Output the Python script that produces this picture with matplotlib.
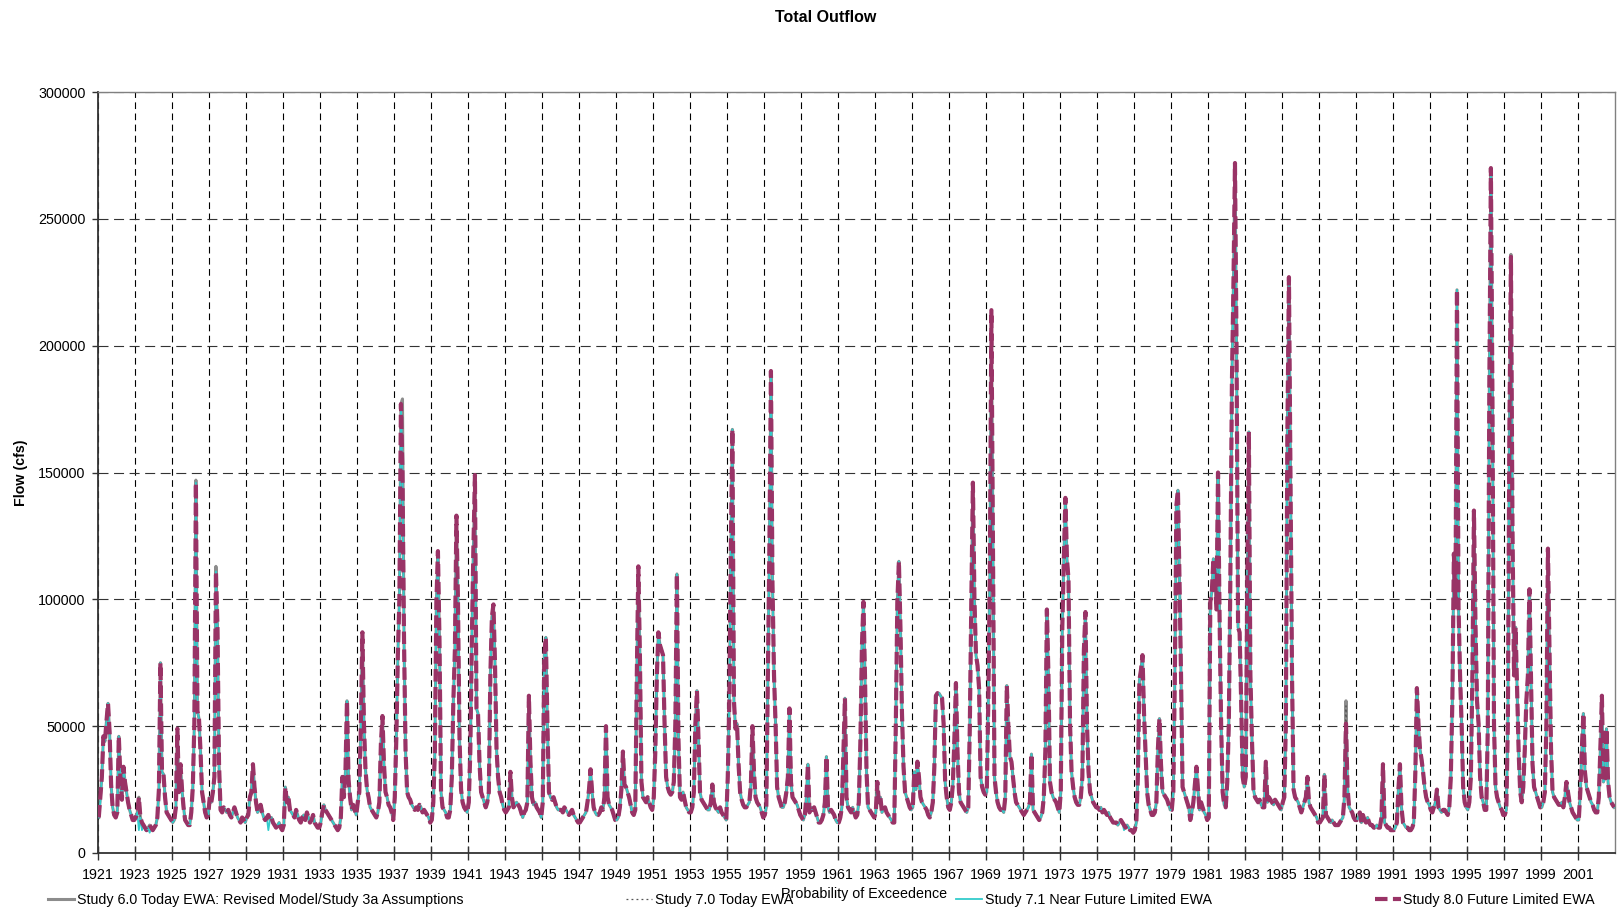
import numpy as np
import matplotlib.pyplot as plt
from matplotlib.ticker import FuncFormatter

plt.rcParams['font.family'] = ['Liberation Sans', 'DejaVu Sans']

# =============================================================================
# DATA  (monthly total outflow in 1000 cfs, one row per water year Oct..Sep,
#        first row = Oct 1921 .. Sep 1922)
# =============================================================================

study80_kcfs = [
    [14, 22, 30, 46, 44, 52, 59, 48, 27, 18, 15, 14],
    [16, 46, 30, 21, 34, 28, 24, 20, 17, 15, 13, 13],
    [14, 16, 22, 14, 12, 11, 10, 9, 10, 11, 10, 9],
    [10, 11, 14, 25, 75, 32, 31, 22, 16, 15, 14, 13],
    [12, 13, 18, 49, 24, 35, 25, 18, 13, 12, 11, 11],
    [16, 26, 51, 146, 56, 53, 40, 24, 20, 16, 14, 15],
    [22, 20, 24, 30, 111, 89, 35, 17, 16, 18, 17, 16],
    [17, 15, 14, 16, 18, 16, 14, 13, 12, 14, 13, 12],
    [14, 15, 22, 24, 35, 26, 20, 16, 17, 19, 16, 14],
    [13, 14, 15, 13, 14, 12, 11, 10, 11, 12, 10, 9],
    [11, 26, 20, 22, 17, 16, 15, 14, 17, 15, 13, 12],
    [14, 15, 13, 16, 14, 12, 13, 15, 12, 11, 10, 10],
    [12, 16, 19, 17, 16, 15, 14, 13, 12, 11, 10, 9],
    [10, 14, 30, 22, 32, 60, 29, 22, 17, 19, 17, 15],
    [20, 24, 50, 87, 51, 33, 25, 22, 18, 17, 16, 15],
    [14, 16, 20, 43, 54, 35, 24, 22, 19, 18, 16, 13],
    [22, 45, 78, 100, 177, 150, 84, 40, 24, 22, 21, 19],
    [18, 17, 18, 17, 19, 18, 16, 17, 16, 15, 14, 12],
    [13, 20, 40, 99, 119, 84, 24, 18, 17, 16, 14, 14],
    [17, 30, 60, 80, 133, 99, 45, 25, 20, 18, 17, 16],
    [20, 40, 84, 120, 149, 57, 55, 35, 24, 22, 20, 18],
    [20, 24, 70, 93, 98, 75, 41, 30, 24, 22, 19, 17],
    [16, 17, 18, 32, 22, 18, 19, 20, 19, 18, 16, 14],
    [16, 17, 20, 62, 36, 22, 19, 20, 18, 17, 16, 14],
    [20, 78, 85, 51, 24, 22, 21, 22, 20, 18, 17, 17],
    [17, 16, 18, 17, 16, 15, 16, 17, 15, 14, 13, 12],
    [12, 13, 14, 15, 16, 20, 25, 33, 24, 18, 16, 15],
    [15, 16, 18, 17, 22, 50, 22, 19, 18, 17, 15, 13],
    [13, 14, 18, 25, 40, 27, 26, 24, 22, 19, 16, 15],
    [17, 70, 113, 78, 28, 22, 21, 20, 22, 20, 18, 17],
    [22, 40, 70, 87, 82, 80, 78, 51, 30, 26, 24, 23],
    [24, 28, 51, 110, 45, 22, 21, 24, 21, 18, 17, 16],
    [16, 18, 24, 51, 64, 45, 24, 21, 20, 19, 18, 17],
    [17, 20, 27, 20, 18, 17, 16, 18, 16, 15, 14, 13],
    [30, 60, 120, 167, 60, 49, 51, 35, 24, 21, 19, 18],
    [18, 19, 20, 27, 50, 32, 22, 20, 19, 18, 16, 14],
    [15, 18, 70, 120, 190, 106, 70, 51, 26, 22, 20, 18],
    [18, 20, 24, 30, 57, 28, 22, 21, 20, 19, 17, 15],
    [14, 13, 15, 22, 35, 16, 18, 17, 18, 16, 14, 12],
    [12, 13, 15, 20, 38, 18, 16, 17, 16, 15, 13, 12],
    [12, 14, 18, 40, 61, 22, 18, 17, 16, 18, 16, 14],
    [15, 20, 43, 81, 99, 70, 32, 18, 17, 16, 15, 14],
    [16, 28, 20, 22, 16, 17, 18, 16, 15, 14, 13, 12],
    [12, 51, 99, 115, 89, 55, 34, 24, 22, 20, 18, 17],
    [18, 32, 25, 36, 30, 22, 20, 19, 18, 17, 15, 14],
    [16, 20, 34, 62, 63, 63, 62, 61, 51, 28, 22, 18],
    [17, 20, 27, 45, 67, 40, 24, 20, 19, 18, 17, 16],
    [18, 50, 100, 146, 100, 78, 74, 65, 30, 26, 24, 23],
    [24, 60, 110, 214, 120, 30, 24, 20, 18, 17, 17, 16],
    [22, 66, 50, 38, 36, 30, 24, 20, 19, 18, 17, 16],
    [15, 16, 17, 18, 20, 39, 17, 16, 15, 14, 13, 14],
    [16, 22, 40, 96, 70, 28, 24, 22, 21, 20, 18, 16],
    [24, 89, 116, 140, 116, 108, 51, 32, 26, 22, 20, 19],
    [19, 22, 30, 80, 95, 51, 32, 24, 22, 20, 19, 18],
    [18, 17, 18, 16, 17, 16, 15, 16, 14, 13, 12, 12],
    [12, 11, 12, 13, 12, 11, 10, 11, 10, 9, 9, 8],
    [9, 12, 30, 68, 72, 78, 55, 40, 24, 19, 17, 15],
    [15, 16, 20, 41, 53, 35, 24, 23, 22, 21, 19, 17],
    [17, 24, 70, 137, 143, 108, 70, 26, 24, 22, 20, 18],
    [13, 16, 20, 27, 34, 25, 17, 20, 18, 16, 15, 13],
    [14, 99, 103, 116, 108, 96, 150, 93, 51, 24, 19, 18],
    [28, 51, 108, 185, 224, 272, 200, 89, 87, 60, 30, 26],
    [30, 108, 166, 70, 45, 25, 22, 21, 20, 21, 19, 18],
    [18, 36, 20, 22, 21, 20, 19, 21, 20, 19, 18, 17],
    [20, 22, 51, 166, 227, 147, 70, 25, 22, 21, 20, 18],
    [16, 18, 20, 22, 30, 20, 18, 17, 16, 15, 14, 12],
    [12, 13, 14, 31, 15, 14, 13, 12, 13, 12, 11, 11],
    [11, 12, 13, 14, 22, 51, 26, 18, 17, 16, 14, 13],
    [13, 14, 16, 12, 15, 13, 12, 14, 12, 11, 11, 10],
    [10, 11, 10, 10, 14, 35, 12, 11, 10, 10, 9, 9],
    [9, 10, 12, 25, 35, 18, 12, 11, 10, 10, 9, 9],
    [10, 12, 32, 65, 51, 41, 37, 32, 26, 22, 20, 19],
    [17, 16, 18, 20, 25, 18, 17, 16, 17, 17, 16, 15],
    [18, 30, 60, 118, 97, 222, 97, 70, 51, 26, 20, 18],
    [17, 20, 30, 70, 135, 90, 60, 51, 30, 22, 20, 17],
    [17, 50, 185, 270, 180, 51, 26, 22, 20, 18, 17, 15],
    [15, 17, 51, 166, 235, 128, 70, 89, 64, 40, 24, 20],
    [26, 41, 60, 70, 104, 70, 35, 26, 24, 22, 20, 18],
    [18, 20, 24, 51, 120, 80, 41, 24, 22, 21, 20, 19],
    [19, 20, 18, 22, 28, 24, 20, 18, 16, 15, 14, 13],
    [13, 24, 41, 55, 32, 26, 24, 22, 20, 19, 17, 16],
    [16, 22, 41, 62, 28, 30, 49, 28, 22, 20, 19, 18],
]

# months where the other studies differ from Study 8.0 (month index: 1000 cfs)
study60_diff = {63: 147, 76: 113, 197: 179, 809: 60, 916: 236}
study70_diff = {63: 146, 809: 58}
study71_diff = {1: 20, 26: 9, 28: 9, 30: 9, 33: 8, 110: 9, 665: 9}

labels = ['Study 6.0 Today EWA: Revised Model/Study 3a Assumptions',
          'Study 7.0 Today EWA',
          'Study 7.1 Near Future Limited EWA',
          'Study 8.0 Future Limited EWA']

first_year = 1921

# =============================================================================
# SERIES
# =============================================================================

base = np.array(study80_kcfs, dtype=float).ravel() * 1000
n = len(base)
x = np.arange(n) + 0.5


def with_diff(d):
    s = base.copy()
    for i, v in d.items():
        s[i] = v * 1000
    return s


s60 = with_diff(study60_diff)
s70 = with_diff(study70_diff)
s71 = with_diff(study71_diff)
s80 = base

# =============================================================================
# PLOT
# =============================================================================

W, H = 1619, 911
fs = 10.3
fig = plt.figure(figsize=(W / 100, H / 100), dpi=100)
ax = fig.add_axes([98 / W, (H - 853) / H, (1615 - 98) / W, (853 - 92) / H])

l60, = ax.plot(x, s60, color='#8c8c8c', lw=2.2, solid_joinstyle='round', zorder=2)
l70, = ax.plot(x, s70, color='#555555', lw=0.9, linestyle=(0, (1.5, 2.5)), zorder=3)
l71, = ax.plot(x, s71, color='#33cccc', lw=1.3, zorder=4)
l80, = ax.plot(x, s80, color='#993366', lw=3.0, dashes=(3, 1.3), zorder=5)

ax.set_xlim(0, n)
ax.set_ylim(0, 300000)

xt = np.arange(0, n, 24)
ax.set_xticks(xt)
ax.set_xticklabels([str(first_year + 2 * i) for i in range(len(xt))])
ax.set_yticks(np.arange(0, 300001, 50000))
ax.yaxis.set_major_formatter(FuncFormatter(lambda v, p: '%d' % v))

ax.tick_params(axis='x', direction='inout', length=10, width=1, pad=6,
               labelsize=fs, colors='#333333', labelcolor='black')
ax.tick_params(axis='y', direction='out', length=4, width=1, pad=5,
               labelsize=fs, colors='#333333', labelcolor='black')

ax.set_axisbelow(True)
ax.grid(True, axis='x', color='black', lw=0.8, linestyle=(0, (6, 4)))
ax.grid(True, axis='y', color='#333333', lw=0.8, linestyle=(0, (9, 5)))

for side in ['left', 'bottom']:
    ax.spines[side].set_color('#333333')
    ax.spines[side].set_linewidth(1.3)
for side in ['top', 'right']:
    ax.spines[side].set_color('#808080')
    ax.spines[side].set_linewidth(1.0)

fig.text(826 / W, 1 - 17 / H, 'Total Outflow', ha='center', va='center',
         fontsize=11.5, fontweight='bold')
fig.text(21 / W, 1 - 473 / H, 'Flow (cfs)', ha='center', va='center',
         rotation=90, fontsize=fs, fontweight='bold')

fig.legend([l60, l70, l71, l80], labels, loc='center left',
           bbox_to_anchor=(48 / W, 1 - 900 / H), ncol=4, frameon=False,
           fontsize=fs, handlelength=1.8, handletextpad=0.2,
           columnspacing=11.4, borderpad=0, borderaxespad=0)

fig.text(864 / W, 1 - 894 / H, 'Probability of Exceedence', ha='center',
         va='center', fontsize=fs)

fig.savefig('out.png', dpi=100)
